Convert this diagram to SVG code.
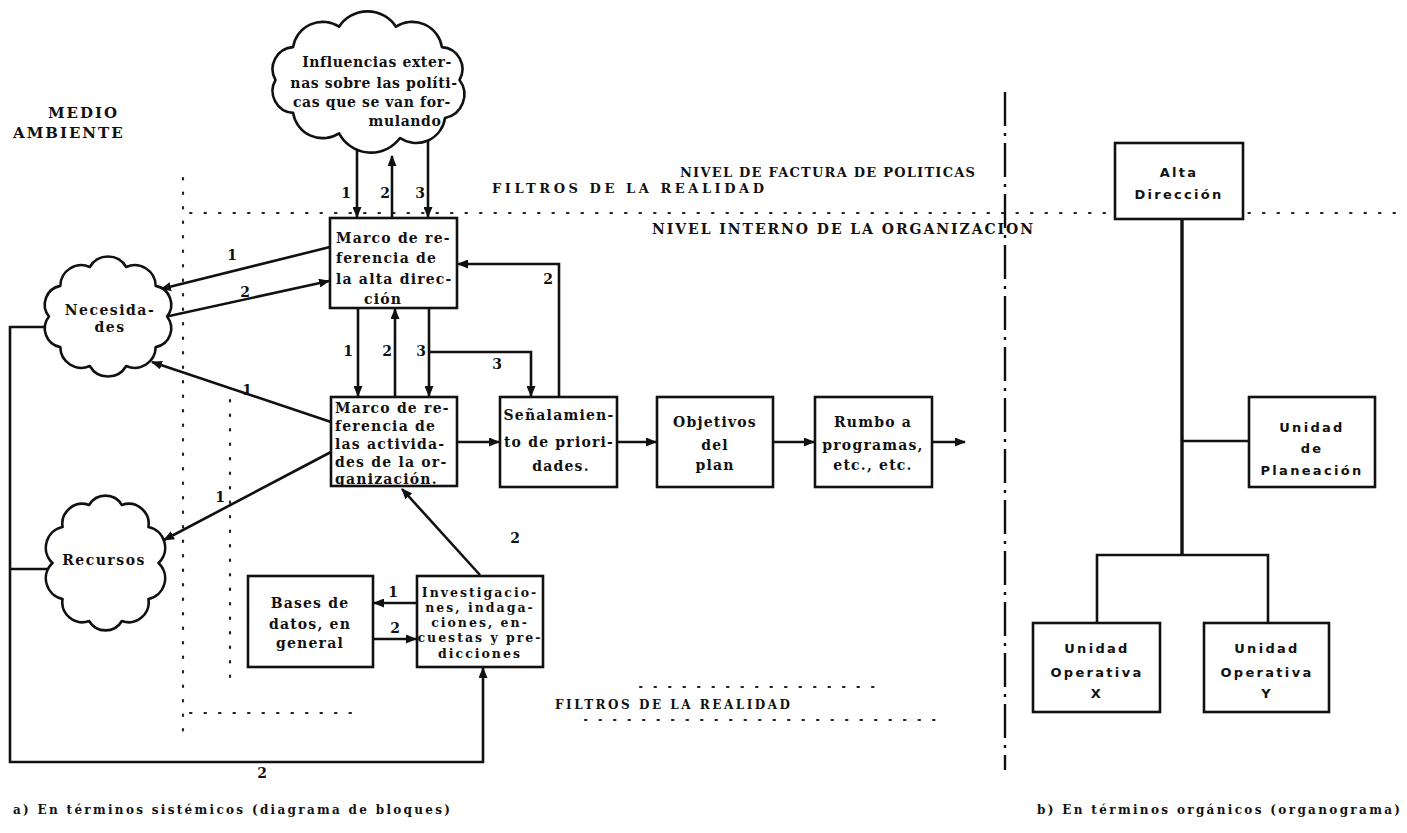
<svg xmlns="http://www.w3.org/2000/svg" width="1407" height="833" viewBox="0 0 1407 833">
<style>
.box{fill:#fff;stroke:#111;stroke-width:2.6}
.cloud{fill:#fff;stroke:#111;stroke-width:2.6;stroke-linejoin:round}
.ln{fill:none;stroke:#111;stroke-width:2.6}
.dot{fill:none;stroke:#222;stroke-width:2.2;stroke-dasharray:1.5 13;stroke-linecap:round}
.sep{fill:none;stroke:#111;stroke-width:2.4;stroke-dasharray:34 7 3 7}
.t{font-family:"DejaVu Serif","Liberation Serif",serif;font-weight:bold;font-size:14px;fill:#111}
.bx{letter-spacing:1.2px}
.cl{letter-spacing:0.6px;text-anchor:middle}
.cn{letter-spacing:1.5px;text-anchor:middle}
.inv{font-size:12.5px;letter-spacing:2px;text-anchor:middle}
.mid{text-anchor:middle}
.hd{font-size:13px}
.lab{text-anchor:middle}
.org{font-family:"DejaVu Sans","Liberation Sans",sans-serif;font-weight:bold;font-size:13px;fill:#111;letter-spacing:2.3px;text-anchor:middle}
.cap{font-size:12px}
</style>
<defs>
<marker id="ah" markerWidth="11" markerHeight="9" refX="10" refY="4.5" orient="auto" markerUnits="userSpaceOnUse">
<path d="M0,0 L11,4.5 L0,9 z" fill="#111"/>
</marker>
</defs>

<g id="filters">
<path class="dot" d="M183 178 V740"/>
<path class="dot" d="M230 400 V690"/>
<path class="dot" d="M190 213 H1400"/>
<path class="dot" d="M190 713 H360"/>
<path class="dot" d="M640 687 H880"/>
<path class="dot" d="M585 720 H935"/>
<path class="sep" d="M1005 92 V770"/>
</g>

<g id="connectors">
<path class="ln" d="M357 130 V217" marker-end="url(#ah)"/>
<path class="ln" d="M392 218 V156" marker-end="url(#ah)"/>
<path class="ln" d="M428 130 V217" marker-end="url(#ah)"/>
<path class="ln" d="M330 247 L161 289" marker-end="url(#ah)"/>
<path class="ln" d="M160 318 L329 281" marker-end="url(#ah)"/>
<path class="ln" d="M358 308 V396" marker-end="url(#ah)"/>
<path class="ln" d="M395 397 V309" marker-end="url(#ah)"/>
<path class="ln" d="M429 308 V396" marker-end="url(#ah)"/>
<path class="ln" d="M429 352 H531 V396" marker-end="url(#ah)"/>
<path class="ln" d="M559 397 V264 H458" marker-end="url(#ah)"/>
<path class="ln" d="M331 422 L152 362" marker-end="url(#ah)"/>
<path class="ln" d="M331 452 L164 540" marker-end="url(#ah)"/>
<path class="ln" d="M457 442 H499" marker-end="url(#ah)"/>
<path class="ln" d="M617 442 H656" marker-end="url(#ah)"/>
<path class="ln" d="M773 442 H814" marker-end="url(#ah)"/>
<path class="ln" d="M932 442 H965" marker-end="url(#ah)"/>
<path class="ln" d="M480 575 L402 489" marker-end="url(#ah)"/>
<path class="ln" d="M417 603 H374" marker-end="url(#ah)"/>
<path class="ln" d="M373 639 H416" marker-end="url(#ah)"/>
<path class="ln" d="M60 327 H10 V762 H483 V668" marker-end="url(#ah)"/>
<path class="ln" d="M10 569 H60"/>
<path class="ln" style="stroke-width:3.4" d="M1182 219 V555"/>
<path class="ln" d="M1182 441 H1249"/>
<path class="ln" d="M1097 623 V555 H1268 V623"/>
</g>

<g id="connector-labels" class="t">
<text class="lab" x="346" y="198">1</text>
<text class="lab" x="385" y="198">2</text>
<text class="lab" x="420" y="198">3</text>
<text class="lab" x="348" y="356">1</text>
<text class="lab" x="387" y="356">2</text>
<text class="lab" x="421" y="356">3</text>
<text class="lab" x="497" y="369">3</text>
<text class="lab" x="548" y="284">2</text>
<text class="lab" x="232" y="260">1</text>
<text class="lab" x="245" y="297">2</text>
<text class="lab" x="247" y="395">1</text>
<text class="lab" x="220" y="502">1</text>
<text class="lab" x="515" y="543">2</text>
<text class="lab" x="393" y="597">1</text>
<text class="lab" x="395" y="633">2</text>
<text class="lab" x="262" y="778">2</text>
</g>

<g id="headings" class="t">
<text x="48" y="118" style="font-size:15px;letter-spacing:2px">MEDIO</text>
<text x="13" y="138" style="font-size:15px;letter-spacing:2px">AMBIENTE</text>
<text class="hd" x="680" y="177" textLength="295" lengthAdjust="spacing">NIVEL DE FACTURA DE POLITICAS</text>
<text class="hd" x="492" y="193" textLength="272" lengthAdjust="spacing">FILTROS DE LA REALIDAD</text>
<text x="652" y="234" textLength="381" lengthAdjust="spacing">NIVEL INTERNO DE LA ORGANIZACION</text>
<text class="hd" x="555" y="709" textLength="235" lengthAdjust="spacing" style="font-size:12px">FILTROS DE LA REALIDAD</text>
</g>

<g id="cloud-influencias">
<path class="cloud" d="M275.5 80 A22 22 0 0 1 293.1 47.1 A30 30 0 0 1 339.1 26.7 A34 34 0 0 1 395.9 26.7 A30 30 0 0 1 441.9 47.1 A22 22 0 0 1 459.5 80 A24 24 0 0 1 445 118 A29 29 0 0 1 400 138 A36 36 0 0 1 339.1 133.3 A30 30 0 0 1 293.1 112.9 A22 22 0 0 1 275.5 80 Z"/>
<text class="t cl" x="377" y="67">Influencias exter-</text>
<text class="t cl" x="374" y="88">nas sobre las políti-</text>
<text class="t cl" x="372" y="107">cas que se van for-</text>
<text class="t cl" x="405" y="126">mulando</text>
</g>

<g id="cloud-necesidades">
<path class="cloud" d="M49 316.5 A19 19 0 0 1 60.3 285.9 A21 21 0 0 1 89.8 267 A21 21 0 0 1 126.2 267 A21 21 0 0 1 155.7 285.9 A19 19 0 0 1 167 316.5 A19 19 0 0 1 155.7 347.1 A21 21 0 0 1 126.2 366 A21 21 0 0 1 89.8 366 A21 21 0 0 1 60.3 347.1 A19 19 0 0 1 49 316.5 Z"/>
<text class="t cn" x="110" y="315">Necesida-</text>
<text class="t cn" x="110" y="332">des</text>
</g>

<g id="cloud-recursos">
<path class="cloud" d="M52.5 563 A21 21 0 0 1 62.6 527.1 A20 20 0 0 1 89.1 505 A19 19 0 0 1 121.9 505 A20 20 0 0 1 148.4 527.1 A21 21 0 0 1 158.5 563 A21 21 0 0 1 148.4 598.9 A20 20 0 0 1 121.9 621 A19 19 0 0 1 89.1 621 A20 20 0 0 1 62.6 598.9 A21 21 0 0 1 52.5 563 Z"/>
<text class="t cn" x="104" y="565">Recursos</text>
</g>

<g id="marco-alta-direccion">
<rect class="box" x="330" y="218" width="127" height="90"/>
<text class="t bx" x="336" y="243">Marco de re-</text>
<text class="t bx" x="336" y="263">ferencia de</text>
<text class="t bx" x="336" y="284">la alta direc-</text>
<text class="t bx" x="364" y="304">ción</text>
</g>

<g id="marco-actividades">
<rect class="box" x="331" y="397" width="126" height="89"/>
<text class="t bx" x="335" y="413">Marco de re-</text>
<text class="t bx" x="335" y="431">ferencia de</text>
<text class="t bx" x="335" y="449">las activida-</text>
<text class="t bx" x="335" y="467">des de la or-</text>
<text class="t bx" x="335" y="484">ganización.</text>
</g>

<g id="senalamiento">
<rect class="box" x="500" y="397" width="117" height="90"/>
<text class="t bx mid" x="559" y="420">Señalamien-</text>
<text class="t bx mid" x="559" y="447">to de priori-</text>
<text class="t bx mid" x="561" y="471">dades.</text>
</g>

<g id="objetivos">
<rect class="box" x="657" y="397" width="116" height="90"/>
<text class="t bx mid" x="715" y="427">Objetivos</text>
<text class="t bx mid" x="715" y="450">del</text>
<text class="t bx mid" x="715" y="470">plan</text>
</g>

<g id="rumbo">
<rect class="box" x="815" y="397" width="117" height="90"/>
<text class="t bx mid" x="873" y="427">Rumbo a</text>
<text class="t bx mid" x="873" y="450">programas,</text>
<text class="t bx mid" x="873" y="470">etc., etc.</text>
</g>

<g id="bases-datos">
<rect class="box" x="248" y="576" width="125" height="91"/>
<text class="t bx mid" x="310" y="608">Bases de</text>
<text class="t bx mid" x="310" y="629">datos, en</text>
<text class="t bx mid" x="310" y="648">general</text>
</g>

<g id="investigaciones">
<rect class="box" x="417" y="576" width="126" height="91"/>
<text class="t inv" x="480" y="597">Investigacio-</text>
<text class="t inv" x="480" y="612">nes, indaga-</text>
<text class="t inv" x="480" y="627">ciones, en-</text>
<text class="t inv" x="480" y="642">cuestas y pre-</text>
<text class="t inv" x="480" y="658">dicciones</text>
</g>

<g id="alta-direccion">
<rect class="box" x="1115" y="143" width="128" height="76"/>
<text class="org" x="1179" y="177">Alta</text>
<text class="org" x="1179" y="199">Dirección</text>
</g>

<g id="unidad-planeacion">
<rect class="box" x="1249" y="397" width="126" height="90"/>
<text class="org" x="1312" y="432">Unidad</text>
<text class="org" x="1312" y="453">de</text>
<text class="org" x="1312" y="475">Planeación</text>
</g>

<g id="unidad-operativa-x">
<rect class="box" x="1033" y="623" width="127" height="89"/>
<text class="org" x="1097" y="653">Unidad</text>
<text class="org" x="1097" y="677">Operativa</text>
<text class="org" x="1097" y="698">X</text>
</g>

<g id="unidad-operativa-y">
<rect class="box" x="1204" y="623" width="125" height="89"/>
<text class="org" x="1267" y="653">Unidad</text>
<text class="org" x="1267" y="677">Operativa</text>
<text class="org" x="1267" y="698">Y</text>
</g>

<g id="captions" class="t">
<text class="cap" x="13" y="814" textLength="437" lengthAdjust="spacing">a) En términos sistémicos (diagrama de bloques)</text>
<text class="cap" x="1037" y="814" textLength="363" lengthAdjust="spacing">b) En términos orgánicos (organograma)</text>
</g>
</svg>
